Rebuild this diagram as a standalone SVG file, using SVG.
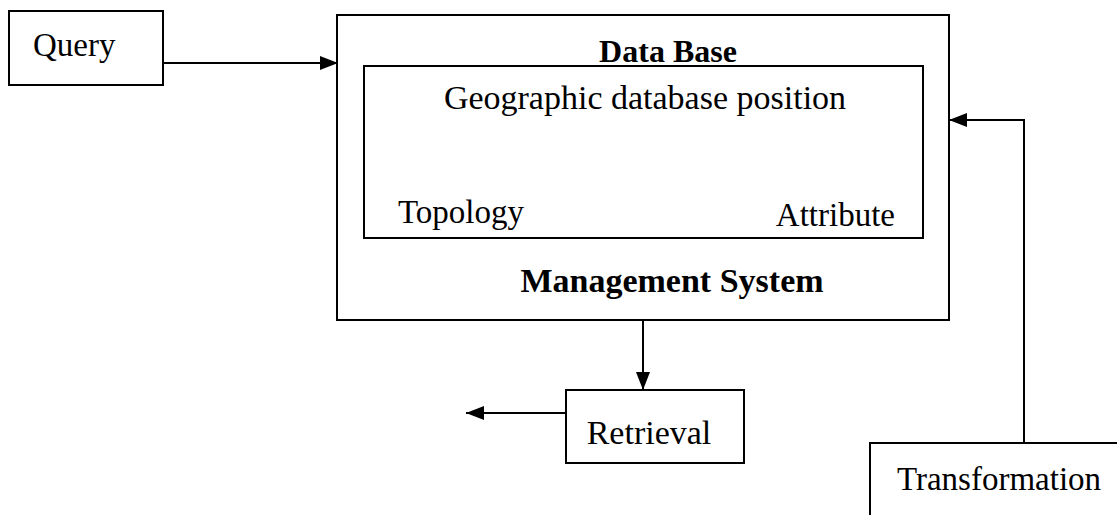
<svg xmlns="http://www.w3.org/2000/svg" width="1117" height="515" viewBox="0 0 1117 515">
<style>
.box{fill:none;stroke:#000;stroke-width:2}
.t{font-family:"Liberation Serif","Times New Roman",serif;font-size:33px;fill:#000}
.b{font-family:"Liberation Serif","Times New Roman",serif;font-size:32px;font-weight:bold;fill:#000}
.c{fill:none;stroke:#000;stroke-width:2}
</style>
<defs>
<marker id="ah" markerWidth="18" markerHeight="14" refX="18" refY="7" orient="auto" markerUnits="userSpaceOnUse">
<path d="M0,0 L18,7 L0,14 Z" fill="#000"/>
</marker>
</defs>
<rect width="1117" height="515" fill="#fff"/>
<g id="query">
<rect class="box" x="9" y="11" width="154" height="74"/>
<text class="t" x="33" y="56">Query</text>
</g>
<g id="dbms">
<rect class="box" x="337" y="15" width="612" height="305"/>
<text class="b" x="668" y="62" text-anchor="middle">Data Base</text>
<text class="b" x="672" y="292" text-anchor="middle" style="font-size:34px">Management System</text>
</g>
<g id="geo">
<rect class="box" x="364" y="66" width="559" height="172"/>
<text class="t" x="645" y="109" text-anchor="middle" style="font-size:34px">Geographic database position</text>
<text class="t" x="398" y="223">Topology</text>
<text class="t" x="895" y="226" text-anchor="end">Attribute</text>
</g>
<g id="retrieval">
<rect class="box" x="566" y="390" width="178" height="73"/>
<text class="t" x="649" y="444" text-anchor="middle" style="font-size:34px">Retrieval</text>
</g>
<g id="transformation">
<path class="box" d="M870,515 L870,443 L1117,443"/>
<text class="t" x="999" y="490" text-anchor="middle">Transformation</text>
</g>
<g id="connectors">
<line class="c" x1="163" y1="63" x2="338" y2="63" marker-end="url(#ah)"/>
<line class="c" x1="643" y1="320" x2="643" y2="390" marker-end="url(#ah)"/>
<line class="c" x1="566" y1="413" x2="466" y2="413" marker-end="url(#ah)"/>
<polyline class="c" points="1024,443 1024,120 949,120" marker-end="url(#ah)"/>
</g>
</svg>
